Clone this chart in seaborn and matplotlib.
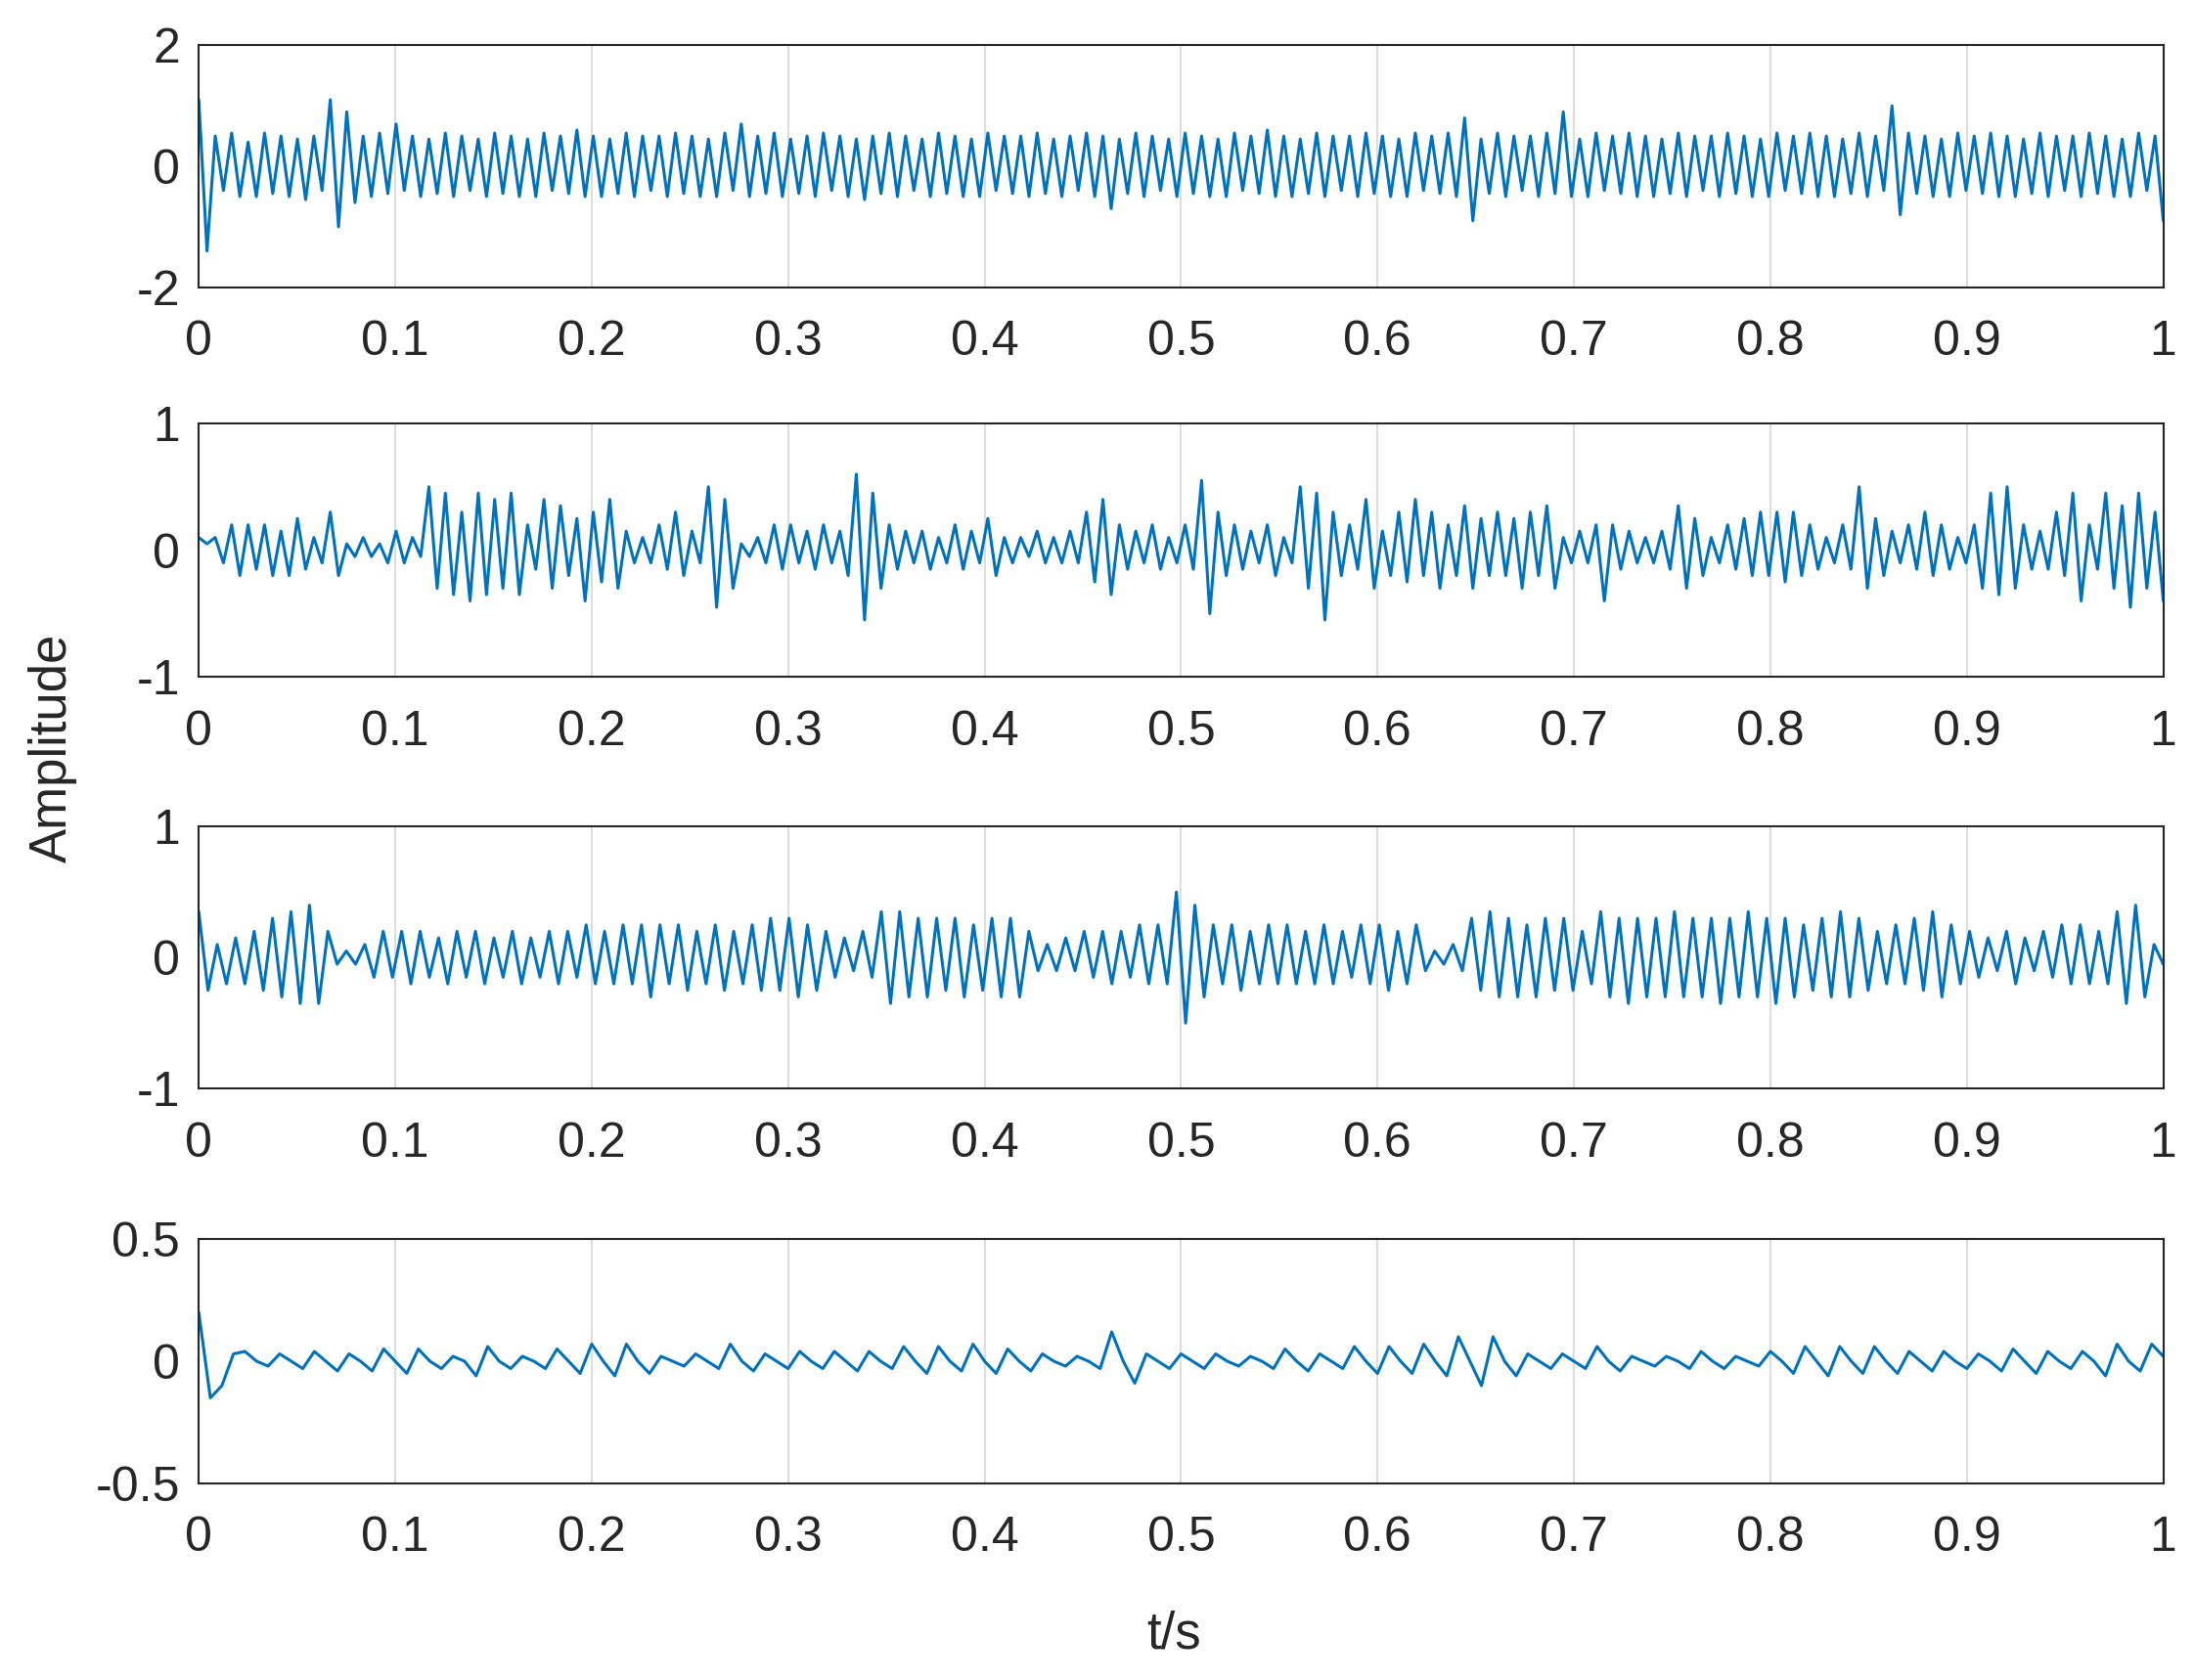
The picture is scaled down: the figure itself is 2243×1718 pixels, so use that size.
import numpy as np
import matplotlib
matplotlib.use("Agg")
import matplotlib.pyplot as plt
import seaborn as sns

# Signal 1 (dense): peak values, 240 samples over 1 s
s1 = [1.1,-1.4,0.5,-0.4,0.55,-0.5,0.4,-0.5,0.55,-0.45,0.5,-0.5,0.45,-0.55,0.5,-0.4,1.1,-1.0,0.9,-0.6,
      0.5,-0.5,0.55,-0.45,0.7,-0.4,0.5,-0.5,0.45,-0.45,0.55,-0.5,0.5,-0.4,0.45,-0.5,0.55,-0.45,0.5,-0.5,
      0.45,-0.5,0.55,-0.4,0.5,-0.45,0.6,-0.5,0.5,-0.5,0.45,-0.45,0.55,-0.5,0.5,-0.4,0.5,-0.5,0.55,-0.45,
      0.5,-0.5,0.45,-0.5,0.55,-0.4,0.7,-0.5,0.5,-0.45,0.55,-0.5,0.45,-0.45,0.5,-0.5,0.55,-0.4,0.5,-0.5,
      0.45,-0.55,0.5,-0.45,0.55,-0.5,0.5,-0.4,0.45,-0.5,0.55,-0.45,0.5,-0.5,0.45,-0.5,0.55,-0.4,0.5,-0.45,
      0.5,-0.5,0.55,-0.45,0.45,-0.5,0.5,-0.4,0.55,-0.5,0.5,-0.7,0.45,-0.45,0.55,-0.5,0.5,-0.4,0.45,-0.5,
      0.55,-0.45,0.5,-0.5,0.45,-0.5,0.55,-0.4,0.5,-0.45,0.6,-0.5,0.5,-0.5,0.45,-0.45,0.55,-0.5,0.5,-0.4,
      0.5,-0.5,0.55,-0.45,0.5,-0.5,0.45,-0.5,0.55,-0.4,0.5,-0.45,0.55,-0.5,0.8,-0.9,0.45,-0.45,0.55,-0.5,
      0.5,-0.4,0.5,-0.5,0.55,-0.45,0.9,-0.5,0.45,-0.5,0.55,-0.4,0.5,-0.45,0.55,-0.5,0.5,-0.5,0.45,-0.45,
      0.55,-0.5,0.5,-0.4,0.5,-0.5,0.55,-0.45,0.5,-0.5,0.45,-0.5,0.55,-0.4,0.5,-0.45,0.55,-0.5,0.5,-0.5,
      0.45,-0.45,0.55,-0.5,0.5,-0.4,1.0,-0.8,0.55,-0.45,0.5,-0.5,0.45,-0.5,0.55,-0.4,0.5,-0.45,0.55,-0.5,
      0.5,-0.5,0.45,-0.45,0.55,-0.5,0.5,-0.4,0.5,-0.5,0.55,-0.45,0.5,-0.5,0.45,-0.5,0.55,-0.4,0.5,-0.9]

# Signal 2: bursts
s2 = [0.1,0.05,0.1,-0.1,0.2,-0.2,0.2,-0.15,0.2,-0.2,0.15,-0.2,0.25,-0.15,0.1,-0.1,0.3,-0.2,0.05,-0.05,
      0.1,-0.05,0.05,-0.1,0.15,-0.1,0.1,-0.05,0.5,-0.3,0.45,-0.35,0.3,-0.4,0.45,-0.35,0.4,-0.3,0.45,-0.35,
      0.2,-0.15,0.4,-0.3,0.35,-0.2,0.25,-0.4,0.3,-0.25,0.4,-0.3,0.15,-0.1,0.1,-0.1,0.2,-0.15,0.3,-0.2,
      0.15,-0.1,0.5,-0.45,0.4,-0.3,0.05,-0.05,0.1,-0.1,0.2,-0.15,0.2,-0.1,0.15,-0.15,0.2,-0.1,0.15,-0.2,
      0.6,-0.55,0.45,-0.3,0.2,-0.15,0.15,-0.1,0.15,-0.15,0.1,-0.1,0.2,-0.15,0.15,-0.1,0.25,-0.2,0.1,-0.1,
      0.1,-0.05,0.15,-0.1,0.1,-0.1,0.15,-0.1,0.3,-0.25,0.4,-0.35,0.2,-0.15,0.15,-0.1,0.2,-0.15,0.1,-0.1,
      0.2,-0.15,0.55,-0.5,0.3,-0.2,0.2,-0.15,0.15,-0.1,0.2,-0.2,0.1,-0.1,0.5,-0.3,0.45,-0.55,0.3,-0.2,
      0.2,-0.15,0.4,-0.3,0.15,-0.2,0.3,-0.25,0.4,-0.2,0.3,-0.3,0.2,-0.2,0.35,-0.3,0.25,-0.2,0.3,-0.2,
      0.25,-0.3,0.3,-0.2,0.35,-0.3,0.1,-0.1,0.15,-0.1,0.2,-0.4,0.2,-0.15,0.15,-0.1,0.1,-0.1,0.15,-0.15,
      0.35,-0.3,0.25,-0.2,0.1,-0.1,0.2,-0.15,0.25,-0.2,0.3,-0.2,0.3,-0.25,0.3,-0.2,0.2,-0.15,0.1,-0.1,
      0.2,-0.15,0.5,-0.3,0.25,-0.2,0.15,-0.1,0.2,-0.15,0.3,-0.2,0.2,-0.15,0.1,-0.1,0.2,-0.3,0.45,-0.35,
      0.5,-0.3,0.2,-0.15,0.15,-0.15,0.3,-0.2,0.45,-0.4,0.2,-0.15,0.45,-0.3,0.35,-0.45,0.45,-0.3,0.3,-0.4]

# Signal 3: narrow-band oscillation
s3 = [0.35,-0.25,0.1,-0.2,0.15,-0.2,0.2,-0.25,0.3,-0.3,0.35,-0.35,0.4,-0.35,0.2,-0.05,0.05,-0.05,0.1,-0.15,
      0.2,-0.15,0.2,-0.2,0.2,-0.15,0.15,-0.2,0.2,-0.15,0.2,-0.2,0.15,-0.15,0.2,-0.2,0.15,-0.15,0.2,-0.2,
      0.2,-0.15,0.25,-0.2,0.2,-0.2,0.25,-0.2,0.25,-0.3,0.25,-0.2,0.25,-0.25,0.2,-0.2,0.25,-0.25,0.2,-0.2,
      0.25,-0.25,0.3,-0.25,0.3,-0.3,0.25,-0.25,0.2,-0.15,0.15,-0.1,0.2,-0.15,0.35,-0.35,0.35,-0.3,0.3,-0.3,
      0.3,-0.25,0.3,-0.3,0.25,-0.25,0.3,-0.3,0.3,-0.3,0.2,-0.1,0.1,-0.1,0.15,-0.1,0.2,-0.15,0.2,-0.2,
      0.2,-0.15,0.25,-0.2,0.25,-0.2,0.5,-0.5,0.4,-0.3,0.25,-0.2,0.25,-0.25,0.2,-0.2,0.25,-0.2,0.25,-0.2,
      0.2,-0.2,0.25,-0.2,0.2,-0.15,0.25,-0.2,0.25,-0.25,0.2,-0.2,0.25,-0.1,0.05,-0.05,0.1,-0.1,0.3,-0.25,
      0.35,-0.3,0.3,-0.3,0.25,-0.3,0.3,-0.25,0.3,-0.25,0.2,-0.2,0.35,-0.3,0.3,-0.35,0.3,-0.3,0.3,-0.3,
      0.35,-0.3,0.3,-0.3,0.3,-0.35,0.3,-0.3,0.35,-0.3,0.3,-0.35,0.3,-0.3,0.25,-0.25,0.3,-0.3,0.35,-0.3,
      0.3,-0.25,0.2,-0.2,0.25,-0.2,0.3,-0.25,0.35,-0.3,0.25,-0.2,0.2,-0.15,0.15,-0.1,0.2,-0.2,0.15,-0.1,
      0.2,-0.15,0.25,-0.2,0.25,-0.2,0.2,-0.2,0.35,-0.35,0.4,-0.3,0.1,-0.05]

# Signal 4: low-frequency component
s4 = [0.2,-0.15,-0.1,0.03,0.04,0.0,-0.02,0.03,0.0,-0.03,0.04,0.0,-0.04,0.03,0.0,-0.04,0.05,0.0,-0.05,0.05,
      0.0,-0.03,0.02,0.0,-0.06,0.06,0.0,-0.03,0.02,0.0,-0.03,0.05,0.0,-0.05,0.07,0.0,-0.06,0.07,0.0,-0.05,
      0.02,0.0,-0.02,0.03,0.0,-0.03,0.07,0.0,-0.04,0.03,0.0,-0.03,0.04,0.0,-0.03,0.04,0.0,-0.04,0.04,0.0,
      -0.03,0.06,0.0,-0.05,0.06,0.0,-0.04,0.07,0.0,-0.05,0.05,0.0,-0.04,0.03,0.0,-0.02,0.02,0.0,-0.03,0.12,
      0.0,-0.09,0.03,0.0,-0.03,0.03,0.0,-0.03,0.03,0.0,-0.02,0.02,0.0,-0.03,0.05,0.0,-0.04,0.03,0.0,-0.03,
      0.06,0.0,-0.05,0.06,0.0,-0.05,0.07,0.0,-0.06,0.1,0.0,-0.1,0.1,0.0,-0.06,0.03,0.0,-0.03,0.03,0.0,
      -0.03,0.06,0.0,-0.04,0.02,0.0,-0.02,0.02,0.0,-0.03,0.04,0.0,-0.03,0.02,0.0,-0.02,0.04,0.0,-0.05,0.06,
      0.0,-0.06,0.06,0.0,-0.05,0.06,0.0,-0.05,0.04,0.0,-0.04,0.04,0.0,-0.03,0.03,0.0,-0.04,0.05,0.0,-0.05,
      0.04,0.0,-0.03,0.04,0.0,-0.06,0.07,0.0,-0.04,0.07,0.02]

signals = [s1, s2, s3, s4]
ylims = [(-2, 2), (-1, 1), (-1, 1), (-0.5, 0.5)]
yticks = [[-2, 0, 2], [-1, 0, 1], [-1, 0, 1], [-0.5, 0, 0.5]]
ytick_labels = [["-2", "0", "2"], ["-1", "0", "1"], ["-1", "0", "1"], ["-0.5", "0", "0.5"]]
xticks = [0, 0.1, 0.2, 0.3, 0.4, 0.5, 0.6, 0.7, 0.8, 0.9, 1]
xtick_labels = ["0", "0.1", "0.2", "0.3", "0.4", "0.5", "0.6", "0.7", "0.8", "0.9", "1"]

sns.set_style("white")
plt.rcParams['font.family'] = ['Liberation Sans', 'DejaVu Sans']

fig = plt.figure(figsize=(22.43, 17.18), dpi=100)
boxes = [(0.973, 0.829), (0.748, 0.597), (0.508, 0.352), (0.2625, 0.117)]
left, right = 0.0906, 0.986
for sig, (top, bot), yl, yt, ytl in zip(signals, boxes, ylims, yticks, ytick_labels):
    ax = fig.add_axes([left, bot, right - left, top - bot])
    t = np.linspace(0, 1, len(sig))
    sns.lineplot(x=t, y=sig, ax=ax, color="#0072BD", linewidth=2.2)
    ax.set_xlim(0, 1)
    ax.set_ylim(*yl)
    ax.set_yticks(yt)
    ax.set_yticklabels(ytl)
    ax.set_xticks(xticks)
    ax.set_xticklabels(xtick_labels)
    ax.tick_params(labelsize=36, direction="in", length=8, colors="#262626")
    ax.tick_params(axis="x", pad=24)
    ax.tick_params(axis="y", pad=14)
    ax.xaxis.grid(True, color="#dddddd", linewidth=1.5)
    ax.yaxis.grid(False)
    for s in ax.spines.values():
        s.set_color("#262626")
        s.set_linewidth(1.5)

fig.text(0.024, 0.555, "Amplitude", rotation=90, ha="center", va="center", fontsize=38, color="#262626")
fig.text(0.535, 0.027, "t/s", ha="center", va="center", fontsize=38, color="#262626")
fig.savefig("out.png", dpi=100, facecolor="white")
